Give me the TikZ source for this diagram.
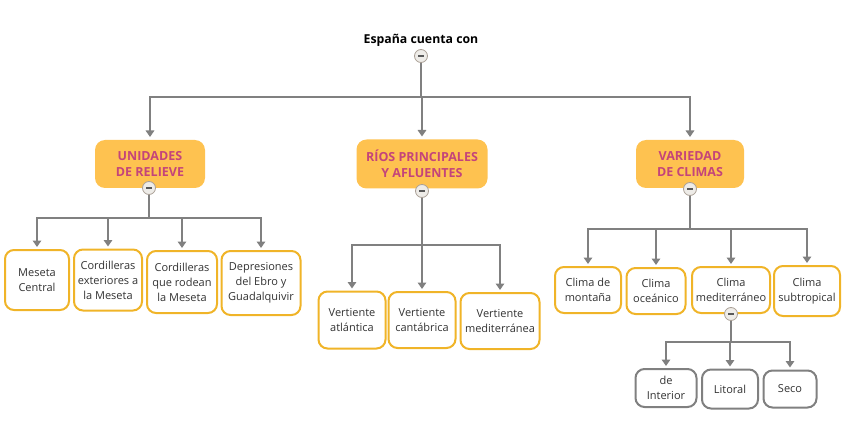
\documentclass[tikz,border=0pt]{standalone}
\usepackage{fontspec}
\setmainfont{Open Sans}
\usetikzlibrary{arrows.meta}
\definecolor{catfill}{RGB}{254,194,80}
\definecolor{cattext}{RGB}{196,68,122}
\definecolor{leafline}{RGB}{240,180,40}
\definecolor{linkgray}{RGB}{128,128,128}
\definecolor{ringgray}{RGB}{170,160,150}
\definecolor{knobfill}{RGB}{238,236,232}
\begin{document}
\begin{tikzpicture}[x=1pt,y=-1pt,line width=2pt,
  every node/.style={font=\fontsize{11}{15}\selectfont,inner sep=1pt,align=center},
  title/.style={font=\fontsize{12.3}{14}\selectfont\bfseries},
  cat/.style={fill=catfill,text=cattext,rounded corners=10pt,font=\fontsize{12.5}{16}\selectfont\bfseries},
  leaf/.style={draw=leafline,fill=white,rounded corners=9pt,text=black!80},
  sub/.style={draw=linkgray,fill=white,rounded corners=9pt,text=black!80},
  knob/.style={circle,draw=ringgray,fill=knobfill,line width=0.8pt,minimum size=13pt,inner sep=0pt,
    path picture={\draw[black!65,line width=1.8pt] ([xshift=-3pt]path picture bounding box.center) -- ([xshift=3pt]path picture bounding box.center);}},
  link/.style={draw=linkgray,-{Triangle[width=8.5pt,length=6.5pt]},shorten >=2pt}]
\useasboundingbox (0,0) rectangle (868,433);
% bar levels
\coordinate (b0) at (0,97);
\coordinate (b1) at (0,218);
\coordinate (b2) at (0,245);
\coordinate (b3) at (0,229);
\coordinate (b4) at (0,342);
% root
\node[title] (root) at (421,40) {España cuenta con};
% categories
\node[cat,minimum width=110pt,minimum height=48pt] (relieve) at (150,164) {UNIDADES\\DE RELIEVE};
\node[cat,minimum width=131pt,minimum height=49pt] (rios) at (422,164) {RÍOS PRINCIPALES\\Y AFLUENTES};
\node[cat,minimum width=108pt,minimum height=48pt] (climas) at (690,164) {VARIEDAD\\DE CLIMAS};
% relieve
\node[leaf,minimum width=64pt,minimum height=60pt] (meseta) at (37,280) {Meseta\\Central};
\node[leaf,minimum width=68pt,minimum height=61pt] (cext) at (108,280) {Cordilleras\\exteriores a\\la Meseta};
\node[leaf,minimum width=70pt,minimum height=62pt] (crod) at (182,282) {Cordilleras\\que rodean\\la Meseta};
\node[leaf,minimum width=79pt,minimum height=64pt] (depr) at (261,283) {Depresiones\\del Ebro y\\Guadalquivir};
% rios
\node[leaf,minimum width=67pt,minimum height=57pt] (vatl) at (352,320) {Vertiente\\atlántica};
\node[leaf,minimum width=67pt,minimum height=56pt] (vcan) at (422,320) {Vertiente\\cantábrica};
\node[leaf,minimum width=79pt,minimum height=56pt] (vmed) at (500,321) {Vertiente\\mediterránea};
% climas
\node[leaf,minimum width=66pt,minimum height=46pt] (cmon) at (588,290) {Clima de\\montaña};
\node[leaf,minimum width=59pt,minimum height=46pt] (coce) at (656,291) {Clima\\oceánico};
\node[leaf,minimum width=78pt,minimum height=46pt] (cmed) at (731,290) {Clima\\mediterráneo};
\node[leaf,minimum width=66pt,minimum height=50pt] (csub) at (807,291) {Clima\\subtropical};
% mediterraneo
\node[sub,minimum width=61pt,minimum height=38pt] (inter) at (666,388) {de\\Interior};
\node[sub,minimum width=56pt,minimum height=39pt] (litoral) at (730,389) {Litoral};
\node[sub,minimum width=53pt,minimum height=37pt] (seco) at (790,389) {Seco};
% collapse knobs
\node[knob] (kroot) at (421,56) {};
\node[knob] (krel) at (149,188) {};
\node[knob] (krio) at (422,191) {};
\node[knob] (kcli) at (690,189) {};
\node[knob] (kmed) at (731,314) {};
% connectors
\foreach \c in {relieve,rios,climas}
  \draw[link] (kroot.south) |- (\c.north |- b0) -- (\c.north);
\foreach \c in {meseta,cext,crod,depr}
  \draw[link] (krel.south) |- (\c.north |- b1) -- (\c.north);
\foreach \c in {vatl,vcan,vmed}
  \draw[link] (krio.south) |- (\c.north |- b2) -- (\c.north);
\foreach \c in {cmon,coce,cmed,csub}
  \draw[link] (kcli.south) |- (\c.north |- b3) -- (\c.north);
\foreach \c in {inter,litoral,seco}
  \draw[link] (kmed.south) |- (\c.north |- b4) -- (\c.north);
\end{tikzpicture}
\end{document}
